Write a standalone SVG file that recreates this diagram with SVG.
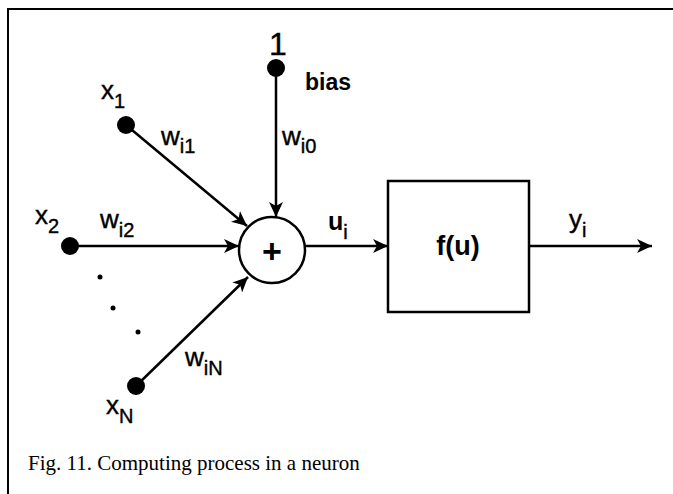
<svg xmlns="http://www.w3.org/2000/svg" width="673" height="494" viewBox="0 0 673 494">
<defs>
<marker id="arr" markerUnits="userSpaceOnUse" markerWidth="16" markerHeight="14" refX="15" refY="7" orient="auto">
<path d="M0,0 L15,7 L0,14 L4,7 Z" fill="#000"/>
</marker>
<style>
.ln{stroke:#000;stroke-width:2.5;fill:none}
.dot{fill:#000}
.t{font-family:"Liberation Sans",Arial,sans-serif;fill:#000}
.n{stroke:#000;stroke-width:0.4}
.m{font-size:26px}
.s{font-size:20px}
.b{font-weight:bold}
.cap{font-family:"Liberation Serif","Times New Roman",serif;font-size:21px;fill:#000}
</style>
</defs>
<rect width="673" height="494" fill="#fff"/>
<g id="frame">
<path d="M8,494 L8,9 L673,9" stroke="#000" stroke-width="2" fill="none"/>
</g>
<g id="connectors">
<line class="ln" x1="276" y1="68" x2="276" y2="217" marker-end="url(#arr)"/>
<line class="ln" x1="126" y1="125" x2="247" y2="226" marker-end="url(#arr)"/>
<line class="ln" x1="70" y1="246" x2="239" y2="246" marker-end="url(#arr)"/>
<line class="ln" x1="136" y1="386" x2="248" y2="277" marker-end="url(#arr)"/>
<line class="ln" x1="305" y1="246" x2="388" y2="246" marker-end="url(#arr)"/>
<line class="ln" x1="529" y1="246" x2="652" y2="246" marker-end="url(#arr)"/>
</g>
<g id="bias">
<circle class="dot" cx="276" cy="68" r="9"/>
<text class="t n" x="269" y="55" font-size="32">1</text>
<text class="t b" x="305" y="90" font-size="23">bias</text>
<text class="t n" x="282" y="145"><tspan class="m">w</tspan><tspan class="s" dy="8">i0</tspan></text>
</g>
<g id="x1">
<circle class="dot" cx="126" cy="125" r="9"/>
<text class="t n" x="101" y="99"><tspan class="m">x</tspan><tspan class="s" dy="9">1</tspan></text>
<text class="t n" x="161" y="145"><tspan class="m">w</tspan><tspan class="s" dy="8">i1</tspan></text>
</g>
<g id="x2">
<circle class="dot" cx="70" cy="246" r="9"/>
<text class="t n" x="35" y="224"><tspan class="m">x</tspan><tspan class="s" dy="9">2</tspan></text>
<text class="t n" x="100" y="228"><tspan class="m">w</tspan><tspan class="s" dy="9">i2</tspan></text>
</g>
<g id="ellipsis">
<circle class="dot" cx="100" cy="277" r="2.5"/>
<circle class="dot" cx="113" cy="308" r="2.5"/>
<circle class="dot" cx="138" cy="332" r="2.5"/>
</g>
<g id="xN">
<circle class="dot" cx="136" cy="386" r="9"/>
<text class="t n" x="106" y="414"><tspan class="m">x</tspan><tspan class="s" dy="9">N</tspan></text>
<text class="t n" x="185" y="366"><tspan class="m">w</tspan><tspan class="s" dy="9">iN</tspan></text>
</g>
<g id="sum">
<circle cx="272" cy="250" r="33" fill="#fff" stroke="#000" stroke-width="2.5"/>
<text class="t b" x="272" y="263" font-size="34" text-anchor="middle">+</text>
</g>
<g id="u">
<text class="t b" x="328" y="230"><tspan font-size="25">u</tspan><tspan class="s n" font-weight="normal" dy="9">i</tspan></text>
</g>
<g id="f">
<rect x="388" y="181" width="141" height="131" fill="#fff" stroke="#000" stroke-width="2.5"/>
<text class="t b" x="458" y="255" font-size="27" text-anchor="middle">f(u)</text>
</g>
<g id="y">
<text class="t n" x="569" y="228"><tspan class="m">y</tspan><tspan class="s" dy="9">i</tspan></text>
</g>
<text class="cap" x="28" y="470">Fig. 11. Computing process in a neuron</text>
</svg>
